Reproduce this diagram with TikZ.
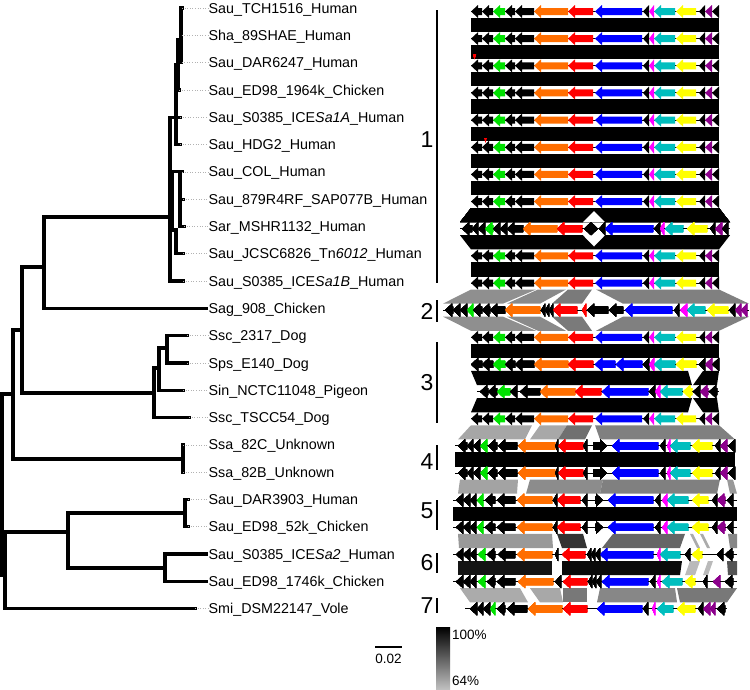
\documentclass[tikz,border=0pt]{standalone}
\usepackage{fontspec}
\setmainfont{Liberation Sans}
\usetikzlibrary{calc}

\definecolor{gGreen}{RGB}{0,225,0}
\definecolor{gOrange}{RGB}{255,110,0}
\definecolor{gRed}{RGB}{255,0,0}
\definecolor{gBlue}{RGB}{0,0,255}
\definecolor{gMag}{RGB}{255,0,255}
\definecolor{gCyan}{RGB}{0,190,190}
\definecolor{gYel}{RGB}{255,255,0}
\definecolor{gPurp}{RGB}{140,0,140}

% gene arrow pointing left: y, head x, tail x, colour
\newcommand{\garrow}[4]{%
  \pgfmathsetmacro\gnh{min(#2+7,#3)}%
  \fill[#4] (#2,#1) -- (\gnh,#1-6.5) -- (\gnh,#1-3.5) -- (#3,#1-3.5)
    -- (#3,#1+3.5) -- (\gnh,#1+3.5) -- (\gnh,#1+6.5) -- cycle;}
% gene arrow pointing right: y, tail x, head x, colour
\newcommand{\garrowr}[4]{%
  \pgfmathsetmacro\gnh{max(#3-7,#2)}%
  \fill[#4] (#3,#1) -- (\gnh,#1-6.5) -- (\gnh,#1-3.5) -- (#2,#1-3.5)
    -- (#2,#1+3.5) -- (\gnh,#1+3.5) -- (\gnh,#1+6.5) -- cycle;}
% one gene map: row, left end, right end, gene list
\newcommand{\generow}[4]{%
  \pgfmathsetmacro\gny{11.5+27.15*#1}%
  \draw[backbone] (#2,\gny) -- (#3,\gny);
  \foreach \ga/\gb/\gc in #4 {\garrow{\gny}{\ga}{\gb}{\gc}}}
% blocks of identity between row #1 and the next one
\newcommand{\synteny}[2]{%
  \pgfmathsetmacro\syt{11.5+27.15*#1+6.5}%
  \pgfmathsetmacro\syb{11.5+27.15*(#1+1)-6.5}%
  \foreach \pa/\pb/\pc/\pd/\pf in {#2}
    {\fill[\pf] (\pa,\syt) -- (\pb,\syt) -- (\pd,\syb) -- (\pc,\syb) -- cycle;}}

\def\stdgenes{471/482/black, 482/493/black, 493/505/gGreen, 505/515/black, 515/534/black, 534/568/gOrange, 568/593/gRed, 595/642/gBlue, 643/649/black, 649/654/gMag, 654/675/gCyan, 676/696/gYel, 699/705/black, 705/712/gPurp, 712/719/black}
\def\spsgenes{471/482/black, 482/493/black, 493/505/gGreen, 505/515/black, 515/534/black, 534/568/gOrange, 568/593/gRed, 595/615/gBlue, 616/642/gBlue, 643/649/black, 649/654/gMag, 654/675/gCyan, 676/696/gYel, 699/705/black, 705/712/gPurp, 712/719/black}
\def\sargenes{462/472/black, 472/478/black, 478/485/black, 485/493/gGreen, 493/500/black, 500/507/black, 507/523/black, 523/557/gOrange, 557/582/gRed, 584/591/black, 599/605/black, 605/653/gBlue, 654/660/black, 660/664/gMag, 665/683/gCyan, 687/707/gYel, 710/715/black, 715/722/gPurp, 722/728/black}
\def\singenes{480/488/black, 488/497/black, 497/510/gGreen, 510/517/black, 520/540/black, 540/575/gOrange, 575/601/gRed, 602/648/gBlue, 649/655/black, 655/660/gMag, 660/682/gCyan, 683/692/gYel, 693/700/black, 700/708/gPurp, 709/717/black}
\def\saggenes{445/453/black, 453/460/black, 460/467/black, 467/473/gGreen, 473/482/black, 482/490/black, 490/505/black, 505/540/gOrange, 541/545/black, 545/549/black, 549/553/black, 553/577/gRed, 582/586/gRed, 587/608/black, 609/623/black, 625/672/gBlue, 674/679/black, 680/687/gMag, 687/705/gCyan, 707/728/gYel, 729/735/black, 735/741/gPurp, 741/747/gPurp}
\def\ssagenes{458/467/black, 467/473/black, 473/480/black, 480/487/gGreen, 488/497/black, 498/517/black, 518/555/gOrange, 555/558/black, 558/583/gRed, 583/587/black, 612/658/gBlue, 660/665/black, 667/670/gMag, 670/690/gCyan, 692/712/gYel, 715/720/black, 720/727/gPurp, 728/735/black}
\def\dargenes{456/463/black, 463/470/black, 470/476/black, 477/483/gGreen, 485/495/black, 497/515/black, 517/552/gOrange, 553/557/black, 557/580/gRed, 582/587/black, 608/653/gBlue, 655/660/black, 662/667/gMag, 667/688/gCyan, 692/708/gYel, 712/717/black, 717/725/gPurp, 727/733/black}
\def\icegenes{456/463/black, 463/470/black, 470/476/black, 478/485/gGreen, 487/495/black, 498/515/black, 517/552/gOrange, 555/558/black, 562/585/gRed, 587/591/black, 591/595/black, 595/600/black, 600/653/gBlue, 657/660/gMag, 660/680/gCyan, 685/690/black, 692/702/gYel, 717/723/black, 725/733/black}
\def\edgenes{456/463/black, 463/470/black, 470/476/black, 478/485/gGreen, 487/495/black, 497/515/black, 518/553/gOrange, 555/561/black, 563/587/gRed, 588/592/black, 592/596/black, 596/601/black, 602/648/gBlue, 650/655/black, 657/660/gMag, 662/682/gCyan, 685/695/gYel, 703/707/black, 713/720/gPurp, 725/733/black}
\def\smigenes{470/477/black, 477/483/black, 483/490/black, 490/495/gGreen, 497/505/black, 507/527/black, 528/562/gOrange, 563/587/gRed, 597/642/gBlue, 643/648/black, 652/655/gMag, 657/673/gCyan, 677/695/gYel, 698/703/black, 703/710/gPurp, 710/715/gPurp, 717/725/black}

\begin{document}
\begin{tikzpicture}[
    x=1pt, y=-1pt,
    branch/.style={line width=3.2pt, line cap=rect},
    leader/.style={gray!60, dotted, line width=0.6pt},
    taxon/.style={anchor=base west, inner sep=0pt, font=\fontsize{14.3}{16}\selectfont},
    grp/.style={inner sep=0pt, font=\fontsize{23}{26}\selectfont},
    grpbar/.style={line width=1.4pt},
    backbone/.style={line width=1pt},
    legend/.style={inner sep=0pt, font=\fontsize{13.5}{15}\selectfont}
]
\useasboundingbox (0,0) rectangle (750,689);

% ------------------------
% Tree
% ------------------------
\coordinate (r0) at (0,484);
\coordinate (R) at (2,484);
\coordinate (nX) at (13,394);
\coordinate (nY) at (5,575);
\coordinate (nW) at (22,330);
\coordinate (nA) at (44,267);
\coordinate (n1) at (170,217);
\coordinate (n1a) at (176,117.2);
\coordinate (n1b) at (181,40);
\coordinate (n1c) at (178,65);
\coordinate (n1d) at (172,217);
\coordinate (n1e) at (180,171.8);
\coordinate (n1f) at (176,230);
\coordinate (n3) at (154,393);
\coordinate (n3b) at (159,368);
\coordinate (n3c) at (167,348);
\coordinate (nSsa) at (183,459);
\coordinate (nE) at (68,532);
\coordinate (nF) at (185,513);
\coordinate (nG) at (165,568);

\coordinate (t0) at (182,8);
\coordinate (t1) at (181.5,35.3);
\coordinate (t2) at (181.5,62.6);
\coordinate (t3) at (179,89.9);
\coordinate (t4) at (180,117.2);
\coordinate (t5) at (180,144.5);
\coordinate (t6) at (182,171.8);
\coordinate (t7) at (183,199.1);
\coordinate (t8) at (184,226.4);
\coordinate (t9) at (183,253.7);
\coordinate (t10) at (183,281);
\coordinate (t11) at (206,308.3);
\coordinate (t12) at (187,335.6);
\coordinate (t13) at (187,362.9);
\coordinate (t14) at (183,390.2);
\coordinate (t15) at (189,417.5);
\coordinate (t16) at (183,444.8);
\coordinate (t17) at (183,472.1);
\coordinate (t18) at (188,499.4);
\coordinate (t19) at (188,526.7);
\coordinate (t20) at (206,554);
\coordinate (t21) at (206,581.3);
\coordinate (t22) at (195,608.6);

\draw[branch] (r0) -- (R);
\foreach \p/\c in {R/nX, R/nY, nX/nW, nX/nSsa, nW/nA, nW/n3, nA/n1, nA/t11,
    n1/n1a, n1/n1d, n1/t10, n1a/n1c, n1a/t4, n1a/t5, n1c/n1b, n1c/t3,
    n1b/t0, n1b/t1, n1b/t2, n1d/n1e, n1d/n1f, n1e/t6, n1e/t7, n1e/t8, n1f/t9,
    n3/n3b, n3/t15, n3b/n3c, n3b/t14, n3c/t12, n3c/t13, nSsa/t16, nSsa/t17,
    nY/nE, nY/t22, nE/nF, nE/nG, nF/t18, nF/t19, nG/t20, nG/t21}
  \draw[branch] (\p) |- (\c);

% ------------------------
% Taxa
% ------------------------
\foreach \i/\txt in {0/Sau\_TCH1516\_Human, 1/Sha\_89SHAE\_Human,
    2/Sau\_DAR6247\_Human, 3/Sau\_ED98\_1964k\_Chicken,
    4/Sau\_S0385\_ICE\textit{Sa1A}\_Human, 5/Sau\_HDG2\_Human,
    6/Sau\_COL\_Human, 7/Sau\_879R4RF\_SAP077B\_Human,
    8/Sar\_MSHR1132\_Human, 9/Sau\_JCSC6826\_Tn\textit{6012}\_Human,
    10/Sau\_S0385\_ICE\textit{Sa1B}\_Human, 11/Sag\_908\_Chicken,
    12/Ssc\_2317\_Dog, 13/Sps\_E140\_Dog, 14/Sin\_NCTC11048\_Pigeon,
    15/Ssc\_TSCC54\_Dog, 16/Ssa\_82C\_Unknown, 17/Ssa\_82B\_Unknown,
    18/Sau\_DAR3903\_Human, 19/Sau\_ED98\_52k\_Chicken,
    20/Sau\_S0385\_ICE\textit{Sa2}\_Human, 21/Sau\_ED98\_1746k\_Chicken,
    22/Smi\_DSM22147\_Vole}
  \node[taxon] (l\i) at (208.5, {8+27.3*\i+5.1}) {\txt};

\foreach \i in {0,...,10,12,13,...,19,22}
  \draw[leader] (t\i) -- (t\i -| l\i.west);

% ------------------------
% Groups
% ------------------------
\foreach \g/\gy/\ga/\gb in {1/140/10/283, 2/311/300/322, 3/383/342/423,
    4/462/445/470, 5/511/500/530, 6/563/553/573, 7/606/598/613} {
  \node[grp] (g\g) at (427,\gy) {\g};
  \coordinate (g\g top) at (437,\ga);
  \coordinate (g\g bot) at (437,\gb);
  \draw[grpbar] (g\g top) -- (g\g bot);
}

% ------------------------
% Identity blocks
% ------------------------
\foreach \r in {0,...,6,9,12}
  \synteny{\r}{471/719/471/719/black}
\synteny{7}{471/719/460/730/black}
\fill[white] (583,222.2) -- (594,211) -- (605,222.2) -- cycle;
\synteny{8}{460/730/471/719/black}
\fill[white] (583,235.2) -- (594,246.5) -- (605,235.2) -- cycle;
\synteny{10}{471/536/443/503/black!44, 538/566/507/540/black!46, 568/592/552/582/black!52, 596/719/623/749/black!50}
\synteny{11}{443/503/471/536/black!44, 507/540/538/566/black!46, 552/582/568/592/black!52, 623/749/596/719/black!50}
\synteny{13}{471/688/477/692/black, 703/719/693/717/black}
\synteny{14}{477/692/471/688/black, 693/717/703/719/black}
\synteny{15}{471/532/458/525/black!35, 540/567/530/558/black!34, 567/592/558/585/black!56, 595/719/600/735/black!50}
\synteny{16}{455/735/455/735/black}
\synteny{17}{460/518/458/517/black!36, 530/603/526/600/black!45, 603/720/600/717/black!50, 727/733/730/737/black!40}
\synteny{18}{453/737/453/737/black}
\synteny{19}{458/552/459/553/black!40, 557/583/562/587/black!80, 613/685/602/680/black!60, 690/693/697/700/black!33, 700/703/707/710/black!33, 728/737/730/737/black!47}
\synteny{20}{458/552/458/552/black!92, 562/682/562/680/black!96, 690/700/685/695/black!27, 708/713/703/708/black!27, 727/737/728/737/black!67}
\synteny{21}{460/520/470/528/black!33, 530/560/540/563/black!34, 563/587/563/587/black!53, 600/675/597/677/black!47, 677/737/680/727/black!53}

% ------------------------
% Gene maps
% ------------------------
\foreach \r in {0,...,7,9,10,12,15}
  \generow{\r}{471}{719}{\stdgenes}
\generow{8}{460}{730}{\sargenes}
\garrowr{228.7}{591}{598}{black}
\generow{11}{443}{749}{\saggenes}
\generow{13}{471}{719}{\spsgenes}
\generow{14}{477}{719}{\singenes}
\generow{16}{455}{735}{\ssagenes}
\garrowr{445.9}{593}{607}{black}
\generow{17}{455}{735}{\ssagenes}
\garrowr{473.05}{593}{607}{black}
\generow{18}{453}{737}{\dargenes}
\garrowr{500.2}{595}{603}{black}
\generow{19}{453}{737}{\dargenes}
\garrowr{527.35}{595}{603}{black}
\generow{20}{453}{737}{\icegenes}
\generow{21}{453}{737}{\edgenes}
\generow{22}{465}{727}{\smigenes}
\fill[gRed] (473,54) -- (476,54) -- (474.5,59) -- cycle;
\fill[gRed] (484,138) -- (487,138) -- (485.5,143) -- cycle;

% ------------------------
% Scale and legend
% ------------------------
\coordinate (sb1) at (375,647);
\coordinate (sb2) at (402,647);
\draw[line width=2.4pt] (sb1) -- (sb2);
\node[legend, anchor=base] (sbl) at (388.5,663) {0.02};

\shade[top color=black, bottom color=black!25] (436,627) rectangle (450,689);
\node[legend, anchor=base west] (top) at (452,639) {100\%};
\node[legend, anchor=base west] (low) at (452,685.5) {64\%};

\end{tikzpicture}
\end{document}
